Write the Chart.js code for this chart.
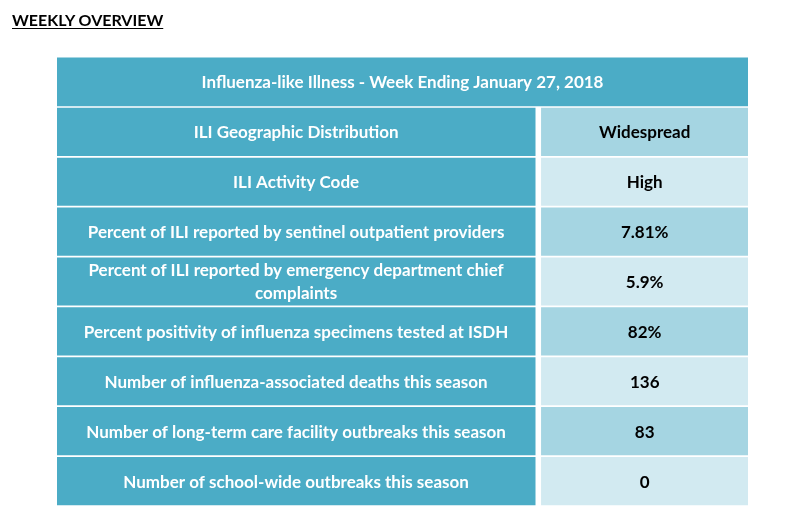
<!DOCTYPE html>
<html>
<head>
<meta charset="utf-8">
<script src="https://cdn.jsdelivr.net/npm/chart.js@4"></script>
<style>
  html, body { margin: 0; padding: 0; background: #fff; }
  #page { position: relative; width: 803px; height: 532px; }
  #heading {
    position: absolute; left: 12px; top: 10px;
    font-family: Lato, "Open Sans", sans-serif; font-weight: bold; font-size: 16px;
    text-decoration: underline; text-underline-offset: 2px; color: #000;
  }
</style>
</head>
<body>
<div id="page">
  <div id="heading">WEEKLY OVERVIEW</div>
  <canvas id="table"></canvas>
</div>
<script>
const HEADER = "Influenza-like Illness - Week Ending January 27, 2018";

const MEASURES = [
  "ILI Geographic Distribution",
  "ILI Activity Code",
  "Percent of ILI reported by sentinel outpatient providers",
  ["Percent of ILI reported by emergency department chief", "complaints"],
  "Percent positivity of influenza specimens tested at ISDH",
  "Number of influenza-associated deaths this season",
  "Number of long-term care facility outbreaks this season",
  "Number of school-wide outbreaks this season",
];

const VALUES = ["Widespread", "High", "7.81%", "5.9%", "82%", "136", "83", "0"];

// column layout, in percent of the table width
const LEFT_END = 69.2;
const RIGHT_START = 70.1;

const TEAL = "#4BACC6";
const ROW_DARK = "#A5D5E2";
const ROW_LIGHT = "#D2EAF1";
const FONT = "Lato, 'Open Sans', sans-serif";

const rows = ["header"].concat(MEASURES.map((m) => Array.isArray(m) ? m.join(" ") : m));

const headerCells = rows.map((_, i) => i === 0 ? [0, 100] : null);
const leftCells = rows.map((_, i) => i === 0 ? null : [0, LEFT_END]);
const rightCells = rows.map((_, i) => i === 0 ? null : [RIGHT_START, 100]);

function cellText(datasetIndex, i) {
  if (datasetIndex === 0) return HEADER;
  if (datasetIndex === 1) return MEASURES[i - 1];
  return VALUES[i - 1];
}

const cellLabels = {
  id: "cellLabels",
  afterDatasetsDraw(chart) {
    const ctx = chart.ctx;
    ctx.save();
    ctx.textAlign = "center";
    ctx.textBaseline = "middle";
    ctx.font = "bold 17px " + FONT;
    chart.data.datasets.forEach((ds, d) => {
      const meta = chart.getDatasetMeta(d);
      meta.data.forEach((el, i) => {
        if (ds.data[i] === null) return;
        const text = cellText(d, i);
        const lines = Array.isArray(text) ? text : [text];
        const cx = (el.x + el.base) / 2;
        const lh = 23;
        let y = el.y - (lines.length - 1) * lh / 2;
        ctx.fillStyle = d === 2 ? "#000" : "#fff";
        for (const line of lines) {
          ctx.fillText(line, cx, y + 1);
          y += lh;
        }
      });
    });
    ctx.restore();
  }
};

new Chart(document.getElementById("table").getContext("2d"), {
  type: "bar",
  data: {
    labels: rows,
    datasets: [
      {
        data: headerCells,
        backgroundColor: TEAL,
        barThickness: 48,
      },
      {
        data: leftCells,
        backgroundColor: TEAL,
        barThickness: 47.5,
      },
      {
        data: rightCells,
        backgroundColor: (c) => c.dataIndex % 2 === 1 ? ROW_DARK : ROW_LIGHT,
        barThickness: 47.5,
      },
    ]
  },
  options: {
    indexAxis: "y",
    responsive: true,
    maintainAspectRatio: false,
    animation: false,
    datasets: {
      bar: { grouped: false, borderWidth: 0, borderSkipped: false }
    },
    layout: {
      padding: { left: 57, right: 55, top: 57, bottom: 26 }
    },
    scales: {
      x: { type: "linear", min: 0, max: 100, display: false },
      y: { display: false, grid: { display: false } }
    },
    plugins: {
      legend: { display: false },
      title: { display: false },
      tooltip: { enabled: false }
    }
  },
  plugins: [cellLabels]
});
</script>
</body>
</html>
